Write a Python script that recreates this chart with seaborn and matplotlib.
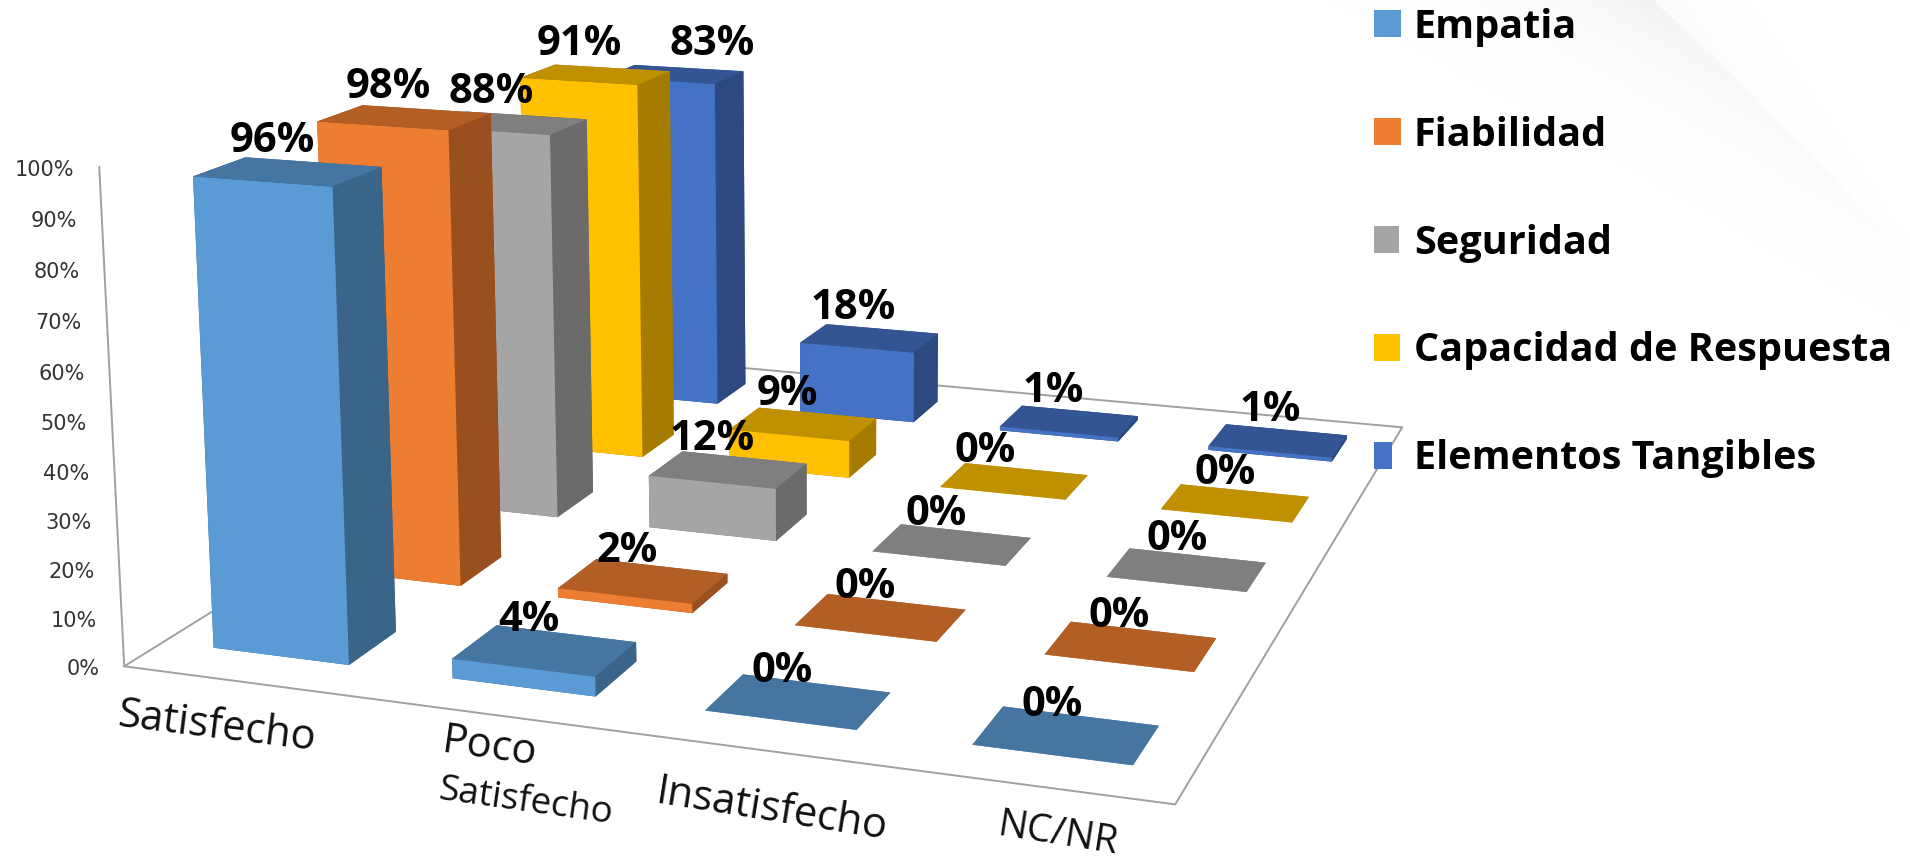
import numpy as np
import matplotlib
matplotlib.use("Agg")
import matplotlib.pyplot as plt
from matplotlib.patches import Patch
from mpl_toolkits.mplot3d import proj3d
import seaborn as sns

categories = ["Satisfecho", "Poco\nSatisfecho", "Insatisfecho", "NC/NR"]
series = ["Empatia", "Fiabilidad", "Seguridad", "Capacidad de Respuesta", "Elementos Tangibles"]
empatia = [96, 4, 0, 0]
fiabilidad = [98, 2, 0, 0]
seguridad = [88, 12, 0, 0]
capacidad = [91, 9, 0, 0]
tangibles = [83, 18, 1, 1]
values = [empatia, fiabilidad, seguridad, capacidad, tangibles]
ticks = list(range(0, 101, 10))

front = ["#5B9BD5", "#ED7D31", "#A5A5A5", "#FFC000", "#4472C4"]
top = ["#4575A1", "#B25E25", "#7F7F7F", "#BF9000", "#335593"]
side = ["#3A6488", "#9A501E", "#6B6B6B", "#A67C00", "#2C4A80"]

sns.set_theme(style="white")
plt.rcParams["font.family"] = ["Open Sans", "DejaVu Sans"]

PW, PH = 1910, 863
fig = plt.figure(figsize=(PW / 100, PH / 100), dpi=100, facecolor="white")

# faint decorative swoosh behind the chart
bg = fig.add_axes([0, 0, 1, 1], zorder=-10)
gx, gy = np.meshgrid(np.arange(1300, PW, 4), np.arange(0, 420, 4))
d = 1655 + 1.02 * gy - gx
shade_v = np.where(d > 0, 0.05 * np.exp(-d / 130), 0.02 * np.exp(d / 60)) * np.exp(-gy / 170)
bg.imshow(1 - shade_v, cmap="gray", vmin=0, vmax=1, extent=(1300, PW, 420, 0), aspect="auto")
bg.set_xlim(0, PW); bg.set_ylim(PH, 0); bg.axis("off")

# camera fitted to the reference
ELEV, AZIM, FOCAL = 12.953, -71.03, 0.3826
BY, BZ = 1.1911, 0.4368
CX, CY, SX, SY = 839.0, 314.7, 8134.4, 8810.2
W, D = 0.573, 0.403

ax = fig.add_axes([0, 0, 1, 1], projection="3d", facecolor="none")
ax.set_proj_type("persp", focal_length=FOCAL)
ax.view_init(elev=ELEV, azim=AZIM)
ax.set_box_aspect((1, BY, BZ))
xmin, xmax = ax.viewLim.intervalx; ymin, ymax = ax.viewLim.intervaly
ax.set_position([(CX + SX * xmin) / PW, (PH - CY + SY * ymin) / PH,
                 SX * (xmax - xmin) / PW, SY * (ymax - ymin) / PH])
ax.apply_aspect = lambda position=None: ax._set_position(ax.get_position(original=True), "active")
ax.computed_zorder = False
ax.set_axis_off()

zo = 5
for j in range(4, -1, -1):
    for i in range(4):
        v = values[j][i]
        # face order: -z, +z, -y, +y, -x, +x
        ax.bar3d(i + (1 - W) / 2, j + (1 - D) / 2, 0, W, D, max(v, 0.05),
                 color=[side[j], top[j], front[j], side[j], side[j], side[j]],
                 shade=False, edgecolor="none", linewidth=0, zorder=zo)
        zo += 1

frame = "#A0A0A0"
ax.plot([0, 4, 4, 0, 0], [0, 0, 5, 5, 0], [0, 0, 0, 0, 0], color=frame, lw=1.4, zorder=1)
ax.plot([0, 0], [0, 0], [0, 100], color=frame, lw=1.4, zorder=1)
ax.set_xlim(0, 4); ax.set_ylim(0, 5); ax.set_zlim(0, 100)
M = ax.get_proj()

def to2d(x, y, z):
    X, Y, _ = proj3d.proj_transform(x, y, z, M)
    return X, Y

for t in ticks:
    ax.annotate(f"{t}%", to2d(0, 0, t), xytext=(-25, -3), textcoords="offset pixels", ha="right",
                va="center", fontsize=15, color="#333333", family="DejaVu Sans", annotation_clip=False)

label_dx = {(0, 4): 54, (2, 3): -13, (3, 0): 2, (3, 1): 4, (3, 2): 6, (3, 3): 6, (3, 4): 8}
for j, row in enumerate(values):
    for i, v in enumerate(row):
        ax.annotate(f"{v}%", to2d(i + 0.5, j + 0.5, v), xytext=(-16 + label_dx.get((i, j), 0), 30),
                    textcoords="offset pixels", ha="center", va="center", fontsize=30,
                    fontweight="bold", color="black", zorder=500, annotation_clip=False)

def ftext(x, y, s, size, rot):
    fig.text(x * 1.2181 / PW, 1 - y * 1.2181 / PH, s, ha="center", va="center", rotation=rot,
             rotation_mode="anchor", fontsize=size, color="#111111")

poco, satisf = categories[1].split("\n")
ftext(178, 597, categories[0], 30, -7)
ftext(402, 614, poco, 30, -8)
ftext(431, 659, satisf, 26.5, -8)
ftext(634, 665, categories[2], 30, -9)
ftext(868, 685, categories[3], 28, -9)

handles = [Patch(facecolor=c, edgecolor="none") for c in front]
leg = fig.legend(handles, series, loc="upper left", bbox_to_anchor=(1374 / PW, 0.991), frameon=False,
                 prop={"size": 28.5, "weight": "bold"}, labelspacing=1.74, handlelength=0.68,
                 handleheight=0.68, handletextpad=0.33, borderaxespad=0, borderpad=0, labelcolor="black")
for h, w in zip(leg.legend_handles, [19.4, 19.4, 18, 18.7, 13]):
    h.set_width(w)
fig.savefig("out.png", dpi=100)
